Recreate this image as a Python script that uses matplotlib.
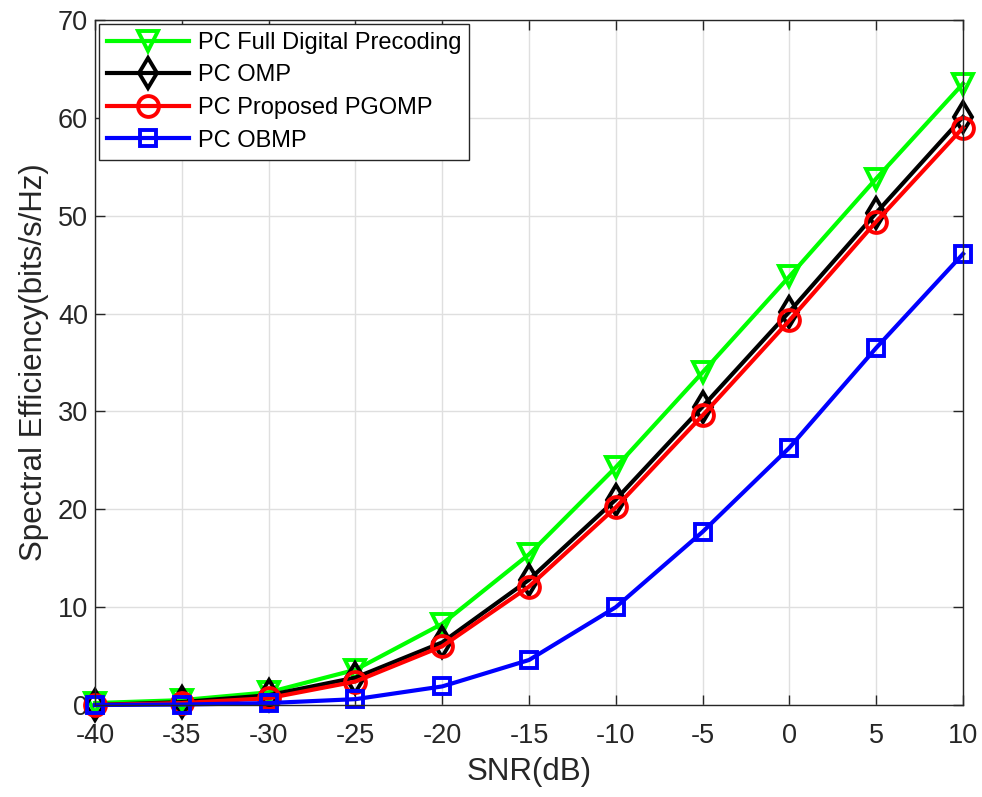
import matplotlib.pyplot as plt
import numpy as np

plt.rcParams['font.family'] = ['Liberation Sans', 'DejaVu Sans']
plt.rcParams['axes.unicode_minus'] = False

snr = [-40, -35, -30, -25, -20, -15, -10, -5, 0, 5, 10]
se_full = [0.2, 0.5, 1.3, 3.6, 8.3, 15.4, 24.3, 34.0, 43.8, 53.8, 63.5]
se_omp = [0.0, 0.3, 1.0, 2.8, 6.4, 12.8, 21.0, 30.5, 40.2, 50.3, 60.1]
se_pgomp = [0.0, 0.2, 0.7, 2.4, 6.0, 12.1, 20.2, 29.6, 39.3, 49.4, 59.0]
se_obmp = [0.0, 0.05, 0.2, 0.6, 1.9, 4.6, 10.0, 17.7, 26.3, 36.5, 46.1]

fig = plt.figure(figsize=(9.82, 7.97), dpi=100)
ax = fig.add_axes([0.0967, 0.1154, 0.884, 0.8595])

lw = 3.0
ms = 15
mew = 2.8
style = dict(mfc='none', mew=mew, lw=lw, clip_on=False)
ax.plot(snr, se_full, color='#00ff00', marker='v', ms=ms, label='PC Full Digital Precoding', **style)
ax.plot(snr, se_omp, color='black', marker='d', ms=ms, label='PC OMP', **style)
ax.plot(snr, se_pgomp, color='red', marker='o', ms=ms, label='PC Proposed PGOMP', **style)
ax.plot(snr, se_obmp, color='blue', marker='s', ms=ms * 0.8, label='PC OBMP', **style)

ax.set_xlim(-40, 10)
ax.set_ylim(0, 70)
ax.set_xticks(np.arange(-40, 11, 5))
ax.set_yticks(np.arange(0, 71, 10))
ax.grid(True, color='#dfdfdf', lw=1.0)
ax.set_axisbelow(True)
ax.tick_params(direction='in', top=True, right=True, labelsize=19.5, length=7,
               colors='#262626', width=1, pad=5)
ax.tick_params(axis='x', pad=13)
for s in ax.spines.values():
    s.set_color('#262626')
    s.set_linewidth(1)

ax.set_xlabel('SNR(dB)', fontsize=22.5, color='#262626', labelpad=6)
ax.set_ylabel('Spectral Efficiency(bits/s/Hz)', fontsize=22.5, color='#262626', labelpad=6)

leg = ax.legend(loc='upper left', fontsize=17, frameon=True, fancybox=False,
                edgecolor='#262626', borderaxespad=0.15, handlelength=3.5,
                labelspacing=0.45, borderpad=0.35, handletextpad=0.35)
leg.get_frame().set_linewidth(1)
leg.get_frame().set_alpha(1)

fig.savefig('out.png', dpi=100)
